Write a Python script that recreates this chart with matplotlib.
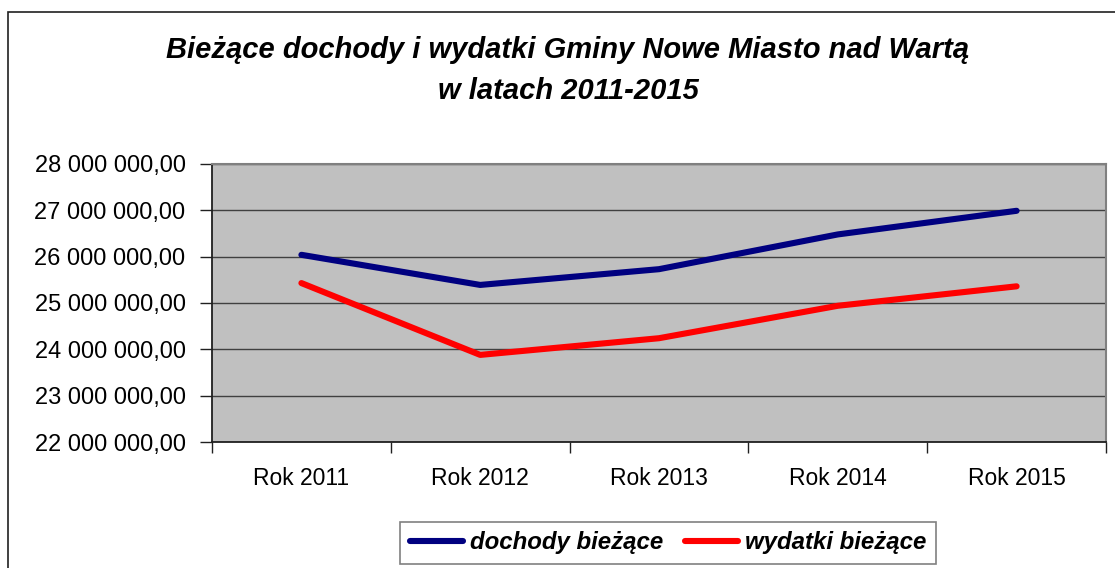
import matplotlib
matplotlib.use("Agg")
import matplotlib.pyplot as plt
from matplotlib.patches import Rectangle
from matplotlib.lines import Line2D
from matplotlib.ticker import FuncFormatter, FixedLocator

categories = ["Rok 2011", "Rok 2012", "Rok 2013", "Rok 2014", "Rok 2015"]
dochody = [26040000, 25390000, 25730000, 26480000, 26990000]
wydatki = [25430000, 23880000, 24240000, 24940000, 25360000]
series_labels = ["dochody bieżące", "wydatki bieżące"]
title = "Bieżące dochody i wydatki Gminy Nowe Miasto nad Wartą\nw latach 2011-2015"

plt.rcParams['font.family'] = ['Liberation Sans', 'DejaVu Sans']

W, H = 1115, 568
fig = plt.figure(figsize=(W / 100, H / 100), dpi=100)
fig.patch.set_facecolor("white")

# outer border (extends past right and bottom edges)
fig.patches.append(Rectangle((8 / W, -0.1), 1.2, (H - 12) / H + 0.1,
                             transform=fig.transFigure, fill=False,
                             edgecolor="#202020", linewidth=1.2))

ax = fig.add_axes([212 / W, (H - 442) / H, (1106 - 212) / W, (442 - 164) / H])
ax.set_facecolor("#C0C0C0")

x = list(range(len(categories)))
ax.plot(x, dochody, color="#000080", linewidth=4.4, solid_capstyle="round", zorder=3)
ax.plot(x, wydatki, color="#FF0000", linewidth=4.4, solid_capstyle="round", zorder=3)

ax.set_xlim(-0.5, len(categories) - 0.5)
ax.set_ylim(22000000, 28000000)
ax.yaxis.set_major_locator(FixedLocator([22e6 + i * 1e6 for i in range(7)]))
ax.yaxis.set_major_formatter(FuncFormatter(
    lambda v, p: f"{v:,.2f}".replace(",", " ").replace(".", ",")))
ax.grid(axis="y", color="#404040", linewidth=1.0, zorder=1)
ax.set_axisbelow(True)

ax.set_xticks(x)
ax.set_xticklabels(categories)
ax.set_xticks([i - 0.5 for i in range(len(categories) + 1)], minor=True)
ax.tick_params(axis="x", which="major", length=0, pad=18, labelsize=16.5)
ax.tick_params(axis="x", which="minor", length=8, width=1.0, color="#202020", direction="out")
ax.tick_params(axis="y", which="major", length=9, width=1.0, color="#202020",
               direction="out", pad=10, labelsize=17)

for s in ["left", "bottom"]:
    ax.spines[s].set_color("#202020")
    ax.spines[s].set_linewidth(1.3)
for s in ["top", "right"]:
    ax.spines[s].set_color("#808080")
    ax.spines[s].set_linewidth(1.5)

fig.text(568 / W, (H - 70.5) / H, title, ha="center", va="center",
         fontsize=21, fontweight="bold", fontstyle="italic", linespacing=1.55)

handles = [Line2D([0], [0], color="#000080", linewidth=4.4, solid_capstyle="round"),
           Line2D([0], [0], color="#FF0000", linewidth=4.4, solid_capstyle="round")]
leg = fig.legend(handles, series_labels, loc="center", ncol=2,
                 bbox_to_anchor=(668 / W, (H - 543) / H),
                 prop={"size": 17.3, "weight": "bold", "style": "italic"},
                 frameon=True, fancybox=False, edgecolor="#606060",
                 handlelength=2.2, handletextpad=0.3, columnspacing=0.9,
                 borderpad=0.4)
leg.get_frame().set_linewidth(1.2)

fig.savefig("out.png", dpi=100)
